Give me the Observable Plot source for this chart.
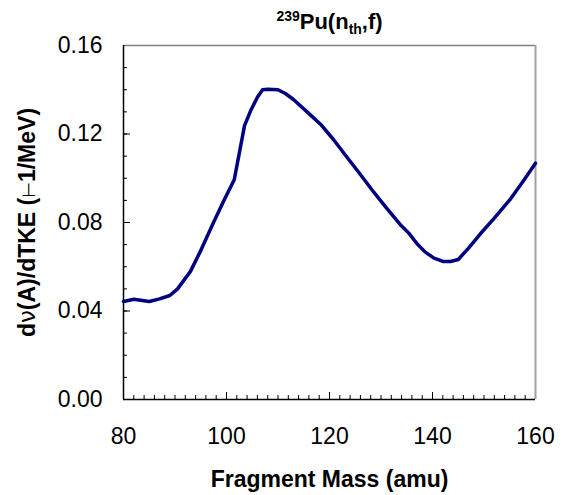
<!DOCTYPE html>
<html><head><meta charset="utf-8">
<script src="https://cdn.jsdelivr.net/npm/d3@7"></script>
<script src="https://cdn.jsdelivr.net/npm/@observablehq/plot@0.6"></script>
<style>html,body{margin:0;padding:0;background:#fff}</style>
</head><body><div id="chart"></div>
<script>
const mass = [80, 82, 85, 87, 89, 90.5, 93, 95, 97.5, 99.5, 101.5, 103.5, 104.7, 106, 107, 108, 110, 111.5, 113, 115.7, 118.3, 120.8, 123.4, 126, 128.6, 131.2, 133.8, 135.4, 137, 138.6, 140.3, 142, 143.5, 145, 147, 149.3, 152, 155, 157.7, 160];
const dnu = [0.0443, 0.0453, 0.0443, 0.0455, 0.0470, 0.0500, 0.0579, 0.0673, 0.0801, 0.0899, 0.0993, 0.1238, 0.1306, 0.1366, 0.1400, 0.1402, 0.1400, 0.1382, 0.1356, 0.1299, 0.1243, 0.1174, 0.1095, 0.1017, 0.0937, 0.0862, 0.0789, 0.0752, 0.0704, 0.0666, 0.0639, 0.0624, 0.0624, 0.0633, 0.0684, 0.0749, 0.0820, 0.0902, 0.0990, 0.1068];
const xMajor = [80, 100, 120, 140, 160];
const yMajor = [0, 0.04, 0.08, 0.12, 0.16];
const xMinor = d3.range(80, 161, 2);
const yMinor = d3.range(0, 17).map(i => i / 100);
const titleText = "239Pu(nth,f)";
const xTitle = "Fragment Mass (amu)";
const yTitle = "dν(A)/dTKE (⊢1/MeV)";

const W = 566, H = 495, mL = 123, mR = 31, mT = 45, mB = 96;
const pw = W - mL - mR, ph = H - mT - mB;
const data = mass.map((m, i) => ({m, v: dnu[i]}));
const font = "'Liberation Sans', Arial, Helvetica, sans-serif";

const chart = Plot.plot({
  width: W, height: H,
  marginLeft: mL, marginRight: mR, marginTop: mT, marginBottom: mB,
  style: {fontFamily: font, background: "#fff", color: "#000"},
  x: {domain: [80, 160]},
  y: {domain: [0, 0.16]},
  marks: [
    Plot.tickY(yMinor, {y: d => d, insetRight: pw - 4, stroke: "#000", strokeWidth: 1}),
    Plot.tickY(yMajor, {y: d => d, insetRight: pw - 7, stroke: "#000", strokeWidth: 1}),
    Plot.tickX(xMinor, {x: d => d, insetTop: ph - 4, stroke: "#000", strokeWidth: 1}),
    Plot.tickX(xMajor, {x: d => d, insetTop: ph - 7, stroke: "#000", strokeWidth: 1}),
    Plot.ruleY([0.16], {stroke: "#808080", strokeWidth: 1.5}),
    Plot.ruleX([160], {stroke: "#a0a0a0", strokeWidth: 2}),
    Plot.ruleX([80], {stroke: "#000", strokeWidth: 1.5}),
    Plot.ruleY([0], {stroke: "#000", strokeWidth: 1.5}),
    Plot.line(data, {x: "m", y: "v", stroke: "#000080", strokeWidth: 3.5, strokeLinejoin: "round"}),
    Plot.axisY(yMajor, {tickSize: 0, tickPadding: 21, fontSize: 23, tickFormat: d3.format(".2f"), label: null}),
    Plot.axisX(xMajor, {tickSize: 0, tickPadding: 28, fontSize: 23, tickFormat: d => String(d), label: null}),
    Plot.text([xTitle], {frameAnchor: "bottom", lineAnchor: "bottom", textAnchor: "middle", dy: 87, fontSize: 23, fontWeight: "bold", fill: "#000"}),
    Plot.text([yTitle], {frameAnchor: "left", lineAnchor: "bottom", textAnchor: "middle", rotate: -90, dx: -89, fontSize: 23, fontWeight: "bold", fill: "#000"}),
    Plot.text([titleText], {frameAnchor: "top", lineAnchor: "bottom", textAnchor: "middle", dy: -17, fontSize: 22, fontWeight: "bold", fill: "#000"})
  ]
});

chart.querySelectorAll("text").forEach(t => {
  if (t.textContent === titleText) {
    t.innerHTML = '<tspan font-size="14" dy="-8">239</tspan><tspan dy="8">Pu(n</tspan><tspan font-size="14" dy="5">th</tspan><tspan dy="-5">,f)</tspan>';
  } else if (t.textContent === yTitle) {
    t.innerHTML = 'd<tspan font-weight="normal" font-family="DejaVu Sans">ν</tspan>(A)/dTKE (<tspan font-weight="normal" font-family="DejaVu Sans" font-size="18">⊢</tspan>1/MeV)';
  }
});
document.getElementById("chart").appendChild(chart);
</script>
</body></html>
